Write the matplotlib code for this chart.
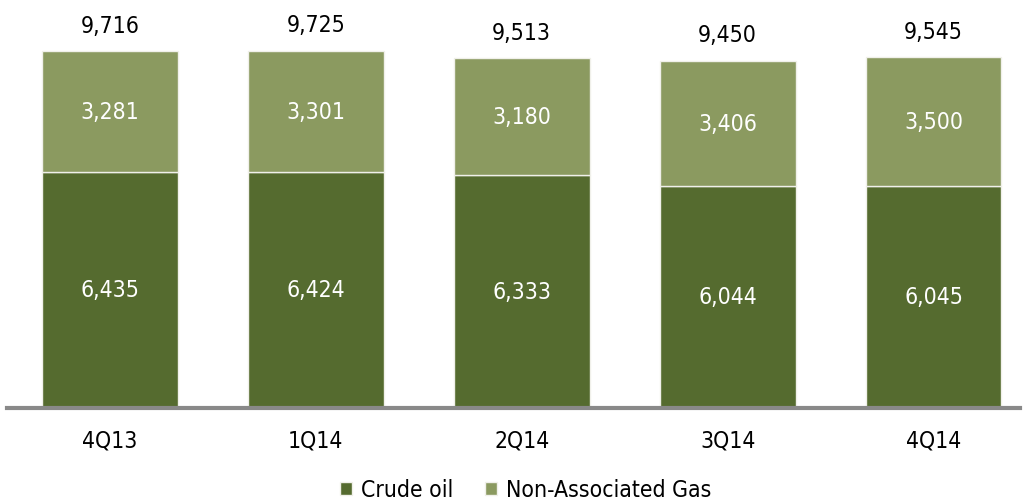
import matplotlib
matplotlib.use("Agg")
import matplotlib.pyplot as plt
import numpy as np

categories = ["4Q13", "1Q14", "2Q14", "3Q14", "4Q14"]
crude_oil = [6435, 6424, 6333, 6044, 6045]
non_assoc_gas = [3281, 3301, 3180, 3406, 3500]
totals = [9716, 9725, 9513, 9450, 9545]

dark = "#556B2F"
light = "#8B9A60"
font = dict(family="DejaVu Sans", stretch="condensed")
fs = 16.5

fig = plt.figure(figsize=(10.29, 5.02), dpi=100)
ax = fig.add_axes([7/1029, (502-409)/502, (1020-7)/1029, 409/502])

x = np.arange(len(categories))
w = 0.66
ax.bar(x, crude_oil, w, color=dark, edgecolor="#f0f0ea", linewidth=1.0, label="Crude oil", zorder=2)
ax.bar(x, non_assoc_gas, w, bottom=crude_oil, color=light, edgecolor="#f0f0ea", linewidth=1.0,
       label="Non-Associated Gas", zorder=2)

for i in range(len(categories)):
    ax.text(x[i], crude_oil[i] / 2, f"{crude_oil[i]:,}", ha="center", va="center",
            color="white", fontsize=fs, **font)
    ax.text(x[i], crude_oil[i] + non_assoc_gas[i] / 2, f"{non_assoc_gas[i]:,}", ha="center",
            va="center", color="white", fontsize=fs, **font)
    ax.annotate(f"{totals[i]:,}", (x[i], crude_oil[i] + non_assoc_gas[i]), xytext=(0, 26),
                textcoords="offset pixels", ha="center", va="center", color="black",
                fontsize=fs, **font)

ax.set_xlim(-0.5, 4.42)
ax.set_ylim(0, 409 / (357 / 9716))
for s in ["top", "right", "left"]:
    ax.spines[s].set_visible(False)
ax.spines["bottom"].set_color("#898989")
ax.spines["bottom"].set_linewidth(3)
ax.spines["bottom"].set_zorder(3)
ax.set_yticks([])
ax.set_xticks(x)
ax.set_xticklabels(categories, fontsize=fs, **font)
ax.tick_params(axis="x", length=0, pad=15)

leg = fig.legend(loc="center", bbox_to_anchor=(0.511, 0.022), ncol=2, frameon=False,
                 prop=dict(size=fs, family="DejaVu Sans", stretch="condensed"),
                 handlelength=0.5, handleheight=0.5, handletextpad=0.4, columnspacing=1.4)

fig.savefig("out.png", dpi=100)
